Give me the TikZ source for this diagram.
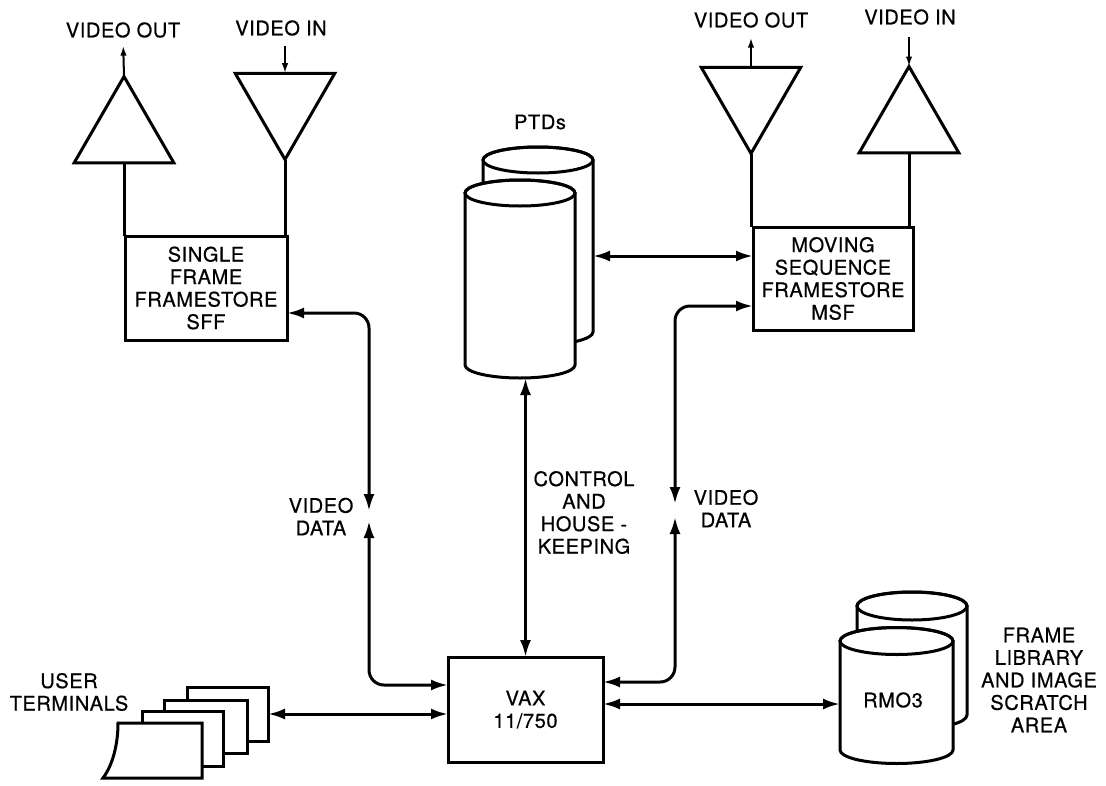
\documentclass[tikz,border=0pt]{standalone}
\usepackage{fontspec}
\setmainfont{TeX Gyre Heros}[FakeBold=0.6, LetterSpace=3]
\usetikzlibrary{arrows.meta,shapes.geometric,calc}
\newcommand\mydrum[5]{% cx, top y, bottom y, rx, ry
  \filldraw[ln, fill=white] ({#1-#4},#2) -- ({#1-#4},#3)
    arc[start angle=180, end angle=0, x radius=#4, y radius=#5]
    -- ({#1+#4},#2)
    arc[start angle=0, end angle=-180, x radius=#4, y radius=#5] -- cycle;
  \draw[ln] (#1,#2) ellipse [x radius=#4, y radius=#5];
}
\begin{document}
\begin{tikzpicture}[x=1pt,y=-1pt,
  every node/.style={font=\fontsize{20}{22.5}\selectfont, align=center, inner sep=0pt, outer sep=0pt},
  ln/.style={line width=3pt, line join=miter},
  box/.style={draw, ln, fill=white},
  tri/.style={regular polygon, regular polygon sides=3, draw, ln, minimum size=115pt, inner sep=0pt, outer sep=0pt},
  dbl/.style={ln, {Latex[length=17pt,width=11pt]}-{Latex[length=17pt,width=11pt]}},
  small/.style={line width=2pt, -{Latex[length=10pt,width=6.5pt]}},
]
\useasboundingbox (0,0) rectangle (1106,785);

% ---------- SFF ----------
\node[box, minimum width=162pt, minimum height=104pt] (sff) at (206,288)
  {SINGLE\\FRAME\\FRAMESTORE\\SFF};
\node[tri] (sffout) at (124,134) {};
\node[tri, shape border rotate=180] (sffin) at (285,102) {};
\node (sffoutl) at (123,30) {VIDEO OUT};
\node (sffinl) at (281,28) {VIDEO IN};
\draw[small, shorten >=8pt] (sffout.north) -- (sffoutl.south);
\draw[small, shorten <=10pt] (sffinl.south -| sffin.north) -- (sffin.north);
\draw[ln] (sffout.south) -- (sffout.south |- sff.north);
\draw[ln] (sffin.south) -- (sffin.south |- sff.north);

% ---------- MSF ----------
\node[box, minimum width=160pt, minimum height=103pt] (msf) at (833,278.5)
  {MOVING\\SEQUENCE\\FRAMESTORE\\MSF};
\node[tri, shape border rotate=180] (msfout) at (751,96) {};
\node[tri] (msfin) at (909,124) {};
\node (msfoutl) at (751,20) {VIDEO OUT};
\node (msfinl) at (910,17) {VIDEO IN};
\draw[small, shorten >=10pt] (msfout.north) -- (msfout.north |- msfoutl.south);
\draw[small, shorten <=12pt] (msfin.north |- msfinl.south) -- (msfin.north);
\draw[ln] (msfout.south) -- (msfout.south |- msf.north);
\draw[ln] (msfin.south) -- (msfin.south |- msf.north);

% ---------- PTDs ----------
\node (ptdl) at (540,122) {PTDs};
\mydrum{538}{160}{332}{55}{13}
\mydrum{520}{193}{365}{55}{13}
\node[minimum width=110pt, minimum height=198pt] (ptdb) at (538,246) {};
\node[minimum width=110pt, minimum height=198pt] (ptd) at (520,279) {};

% ---------- VAX ----------
\node[box, minimum width=155pt, minimum height=105pt] (vax) at (525.5,709.5)
  {VAX\\11/750};

% ---------- RMO3 ----------
\mydrum{912}{606}{715}{55}{14}
\mydrum{896.5}{641}{750}{56.5}{13.5}
\node[minimum width=113pt, minimum height=136pt] (rmo) at (896.5,695) {};
\node (rmol) at (893,700) {RMO3};
\node (libl) at (1039,680) {FRAME\\LIBRARY\\AND IMAGE\\SCRATCH\\AREA};

% ---------- terminals ----------
\node[box, minimum width=81pt, minimum height=54pt] (term) at (227.5,714) {};
\node[box, minimum width=83pt, minimum height=53pt] (term2) at (205.5,726.5) {};
\node[box, minimum width=81pt, minimum height=55pt] (term3) at (182.5,738.5) {};
\filldraw[ln, fill=white] (118,723) -- (202,723) -- (202,778) -- (103,778)
  .. controls (112,766) and (118,746) .. cycle;
\node (usrl) at (69,692) {USER\\TERMINALS};

% ---------- connectors ----------
\coordinate (lt) at (369,511);
\coordinate (lb) at (369,521);
\coordinate (rt) at (675,504);
\coordinate (rb) at (675,517);

\draw[dbl, rounded corners=15pt] ([yshift=-25pt]sff.east) -| (lt);
\draw[dbl, rounded corners=15pt] (lb) |- ([yshift=24.5pt]vax.west);
\draw[dbl, rounded corners=15pt] ([yshift=-27.5pt]msf.west) -| (rt);
\draw[dbl, rounded corners=15pt] (rb) |- ([yshift=27.5pt]vax.east);
\draw[dbl] ([yshift=22.5pt]msf.west) -- ([yshift=22.5pt]msf.west -| ptdb.east);
\draw[dbl] (vax.north) -- (vax.north |- ptd.south);
\draw[dbl] ([yshift=5.5pt]vax.east) -- ([yshift=5.5pt]vax.east -| rmo.west);
\draw[dbl] (term.east) -- (term.east -| vax.west);

\node (vdl) at (321,516.5) {VIDEO\\DATA};
\node (vdr) at (726,508.5) {VIDEO\\DATA};
\node (ctl) at (584,512.5) {CONTROL\\AND\\HOUSE -\\KEEPING};
\end{tikzpicture}
\end{document}
